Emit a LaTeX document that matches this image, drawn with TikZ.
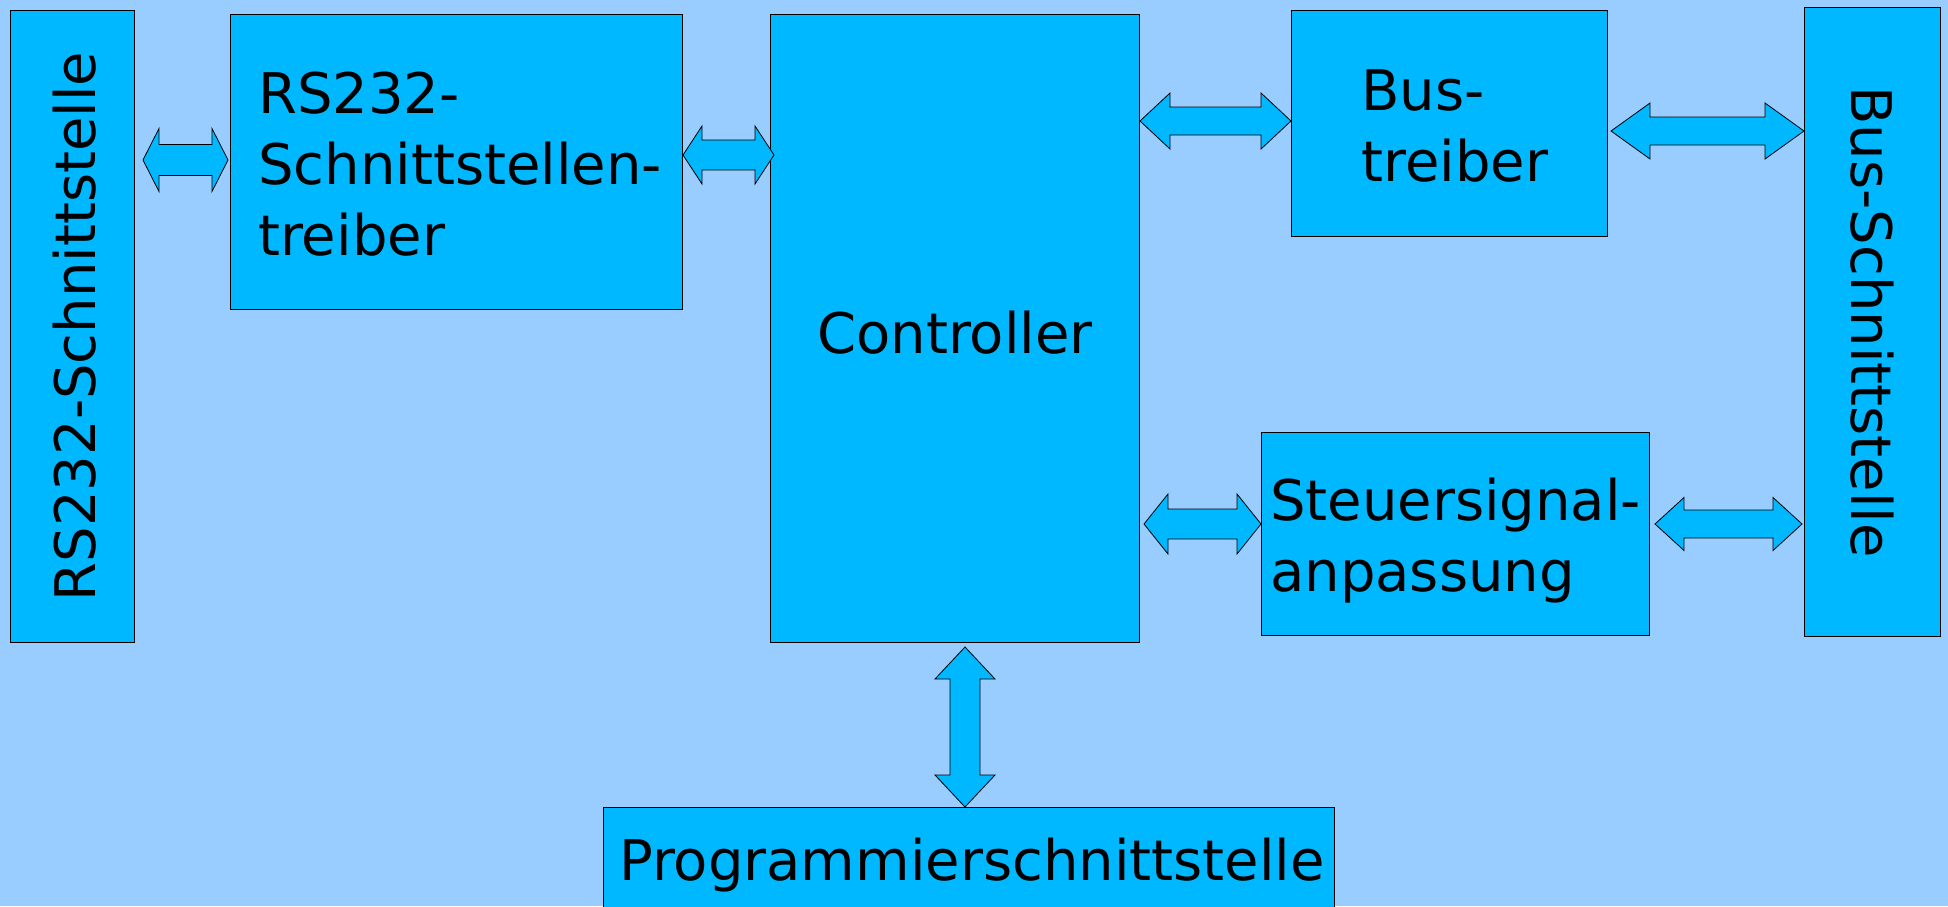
\documentclass[tikz,border=0pt]{standalone}
\usepackage{fontspec}
\setmainfont{DejaVu Sans}
\usetikzlibrary{calc}
\definecolor{bgblue}{HTML}{99CCFF}
\definecolor{boxblue}{HTML}{00B8FF}

\tikzset{
  box/.style={draw=black, line width=1pt, fill=boxblue, inner sep=0pt, anchor=north west},
  lbl/.style={inner sep=0pt, text=black, font=\fontsize{56}{71}\selectfont},
  blockarrow/.style={draw=black, line width=0.8pt, fill=boxblue, line join=miter},
}

% horizontal double block arrow: left tip, right tip, head length, head half height, shaft half height
\newcommand\hdbl[5]{%
  \draw[blockarrow] let \p1=#1, \p2=#2 in
    (\p1) -- ({\x1+#3pt},{\y1+#4pt}) -- ({\x1+#3pt},{\y1+#5pt})
    -- ({\x2-#3pt},{\y2+#5pt}) -- ({\x2-#3pt},{\y2+#4pt}) -- (\p2)
    -- ({\x2-#3pt},{\y2-#4pt}) -- ({\x2-#3pt},{\y2-#5pt})
    -- ({\x1+#3pt},{\y1-#5pt}) -- ({\x1+#3pt},{\y1-#4pt}) -- cycle;}
% vertical double block arrow: top tip, bottom tip, head length, head half width, shaft half width
\newcommand\vdbl[5]{%
  \draw[blockarrow] let \p1=#1, \p2=#2 in
    (\p1) -- ({\x1+#4pt},{\y1-#3pt}) -- ({\x1+#5pt},{\y1-#3pt})
    -- ({\x2+#5pt},{\y2+#3pt}) -- ({\x2+#4pt},{\y2+#3pt}) -- (\p2)
    -- ({\x2-#4pt},{\y2+#3pt}) -- ({\x2-#5pt},{\y2+#3pt})
    -- ({\x1-#5pt},{\y1-#3pt}) -- ({\x1-#4pt},{\y1-#3pt}) -- cycle;}

\begin{document}
\begin{tikzpicture}[x=1pt, y=-1pt]
  \useasboundingbox (0,0) rectangle (1948,906);
  \clip (0,0) rectangle (1948,906);
  \fill[bgblue] (0,0) rectangle (1948,906);

  % blocks
  \node[box, minimum width=124pt, minimum height=632pt] (rsif)   at (10,10)   {};
  \node[box, minimum width=452pt, minimum height=295pt] (rsdrv)  at (230,14)  {};
  \node[box, minimum width=369pt, minimum height=628pt] (ctrl)   at (770,14)  {};
  \node[box, minimum width=316pt, minimum height=226pt] (busdrv) at (1291,10) {};
  \node[box, minimum width=136pt, minimum height=629pt] (busif)  at (1804,7)  {};
  \node[box, minimum width=388pt, minimum height=203pt] (sig)    at (1261,432) {};
  \node[box, minimum width=731pt, minimum height=150pt] (prog)   at (603,807) {};

  % labels
  \node[lbl, rotate=90] (rsiftxt) at ($(rsif.center)+(2,0)$) {RS232-Schnittstelle};
  \node[lbl, anchor=base west] (rsdrvtxt) at (258,113)
    {\vtop{\hbox{RS232-}\hbox{Schnittstellen-}\hbox{treiber}}};
  \node[lbl, anchor=base] (ctrltxt) at (ctrl.center |- 0,353) {Controller};
  \node[lbl, anchor=base west] (busdrvtxt) at (1361,110)
    {\vtop{\hbox{Bus-}\hbox{treiber}}};
  \node[lbl, rotate=-90] (busiftxt) at (busif.center) {Bus-Schnittstelle};
  \node[lbl, anchor=base west] (sigtxt) at (1270,520)
    {\vtop{\hbox{Steuersignal-}\hbox{anpassung}}};
  \node[lbl, anchor=base west] (progtxt) at (619,880) {Programmierschnittstelle};

  % connections
  \hdbl{($(rsif.east|-0,160)+(8,0)$)}{($(rsdrv.west|-0,160)+(-2,0)$)}{16}{31.5}{15.5}
  \hdbl{(rsdrv.east|-0,155)}{($(ctrl.west|-0,155)+(4,0)$)}{19}{29}{15}
  \hdbl{(ctrl.east|-0,121)}{(busdrv.west|-0,121)}{30}{28}{14}
  \hdbl{($(busdrv.east|-0,131)+(3,0)$)}{(busif.west|-0,131)}{39}{28}{14}
  \hdbl{($(ctrl.east|-0,524)+(4,0)$)}{(sig.west|-0,524)}{24}{30}{15}
  \hdbl{($(sig.east|-0,524)+(5,0)$)}{($(busif.west|-0,524)+(-2,0)$)}{29}{26.5}{14}
  \vdbl{($(965,0|-ctrl.south)+(0,4)$)}{(965,0|-prog.north)}{32}{30}{15}
\end{tikzpicture}
\end{document}
